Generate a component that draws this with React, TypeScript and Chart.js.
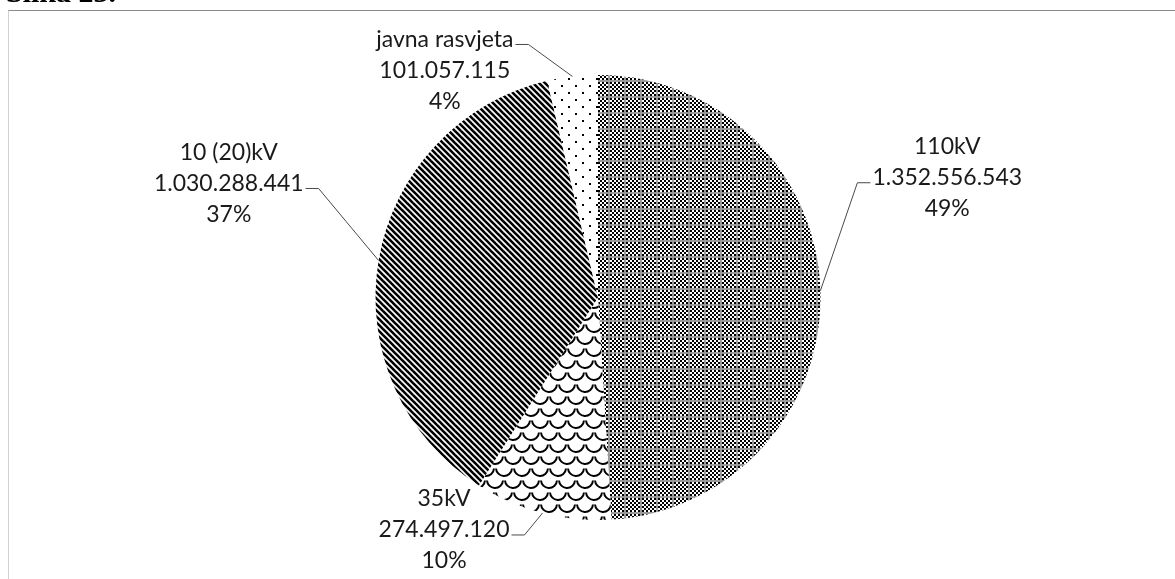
import React, { useEffect, useRef } from "react";
import { Chart, registerables } from "chart.js";

Chart.register(...registerables);

// ---- data ----
const categories = ["110kV", "35kV", "10 (20)kV", "javna rasvjeta"];
const values = [1352556543, 274497120, 1030288441, 101057115];
const patternKinds = ["checker", "scales", "stripes", "dots"];

// label placement relative to the slice's outer mid point (style, not data)
const labelLayout = [
  { dx: 37, dy: -108, side: "right", attach: 1 },
  { dx: -18, dy: 22, side: "left", attach: 1 },
  { dx: -60, dy: -72, side: "left", attach: 1 },
  { dx: -44, dy: -32, side: "left", attach: 0 },
];

const FONT = "23px Lato";
const LINE_H = 31;

function formatValue(n: number): string {
  return String(n).replace(/\B(?=(\d{3})+(?!\d))/g, ".");
}

function makePattern(kind: string): CanvasPattern | string {
  const c = document.createElement("canvas");
  const ctx = c.getContext("2d")!;
  if (kind === "checker") {
    c.width = 16; c.height = 16;
    ctx.fillStyle = "#fff"; ctx.fillRect(0, 0, 16, 16);
    ctx.fillStyle = "#000";
    for (let y = 0; y < 16; y += 2)
      for (let x = 0; x < 16; x += 2)
        if (((x + y) / 2) % 2 === 0) ctx.fillRect(x, y, 2, 2);
    ctx.fillStyle = "#9a9a9a";
    ctx.fillRect(0, 0, 16, 2);
    ctx.fillRect(0, 0, 2, 16);
  } else if (kind === "scales") {
    const W = 18, H = 24;
    c.width = W; c.height = H;
    ctx.fillStyle = "#fff"; ctx.fillRect(0, 0, W, H);
    ctx.strokeStyle = "#000"; ctx.lineWidth = 2;
    const r = W / 2;
    const rows = [
      { cy: -H / 2, xs: [0, W] },
      { cy: 0, xs: [W / 2] },
      { cy: H / 2, xs: [0, W] },
      { cy: H, xs: [W / 2] },
    ];
    for (const row of rows) {
      for (const cx of row.xs) {
        ctx.beginPath();
        ctx.arc(cx, row.cy, r - 1, 0.02 * Math.PI, 0.98 * Math.PI);
        ctx.stroke();
      }
    }
  } else if (kind === "stripes") {
    const S = 6;
    c.width = S; c.height = S;
    ctx.fillStyle = "#fff"; ctx.fillRect(0, 0, S, S);
    ctx.strokeStyle = "#000"; ctx.lineWidth = 2.6;
    for (let k = -2 * S; k <= 2 * S; k += S) {
      ctx.beginPath();
      ctx.moveTo(k - S, -S);
      ctx.lineTo(k + 2 * S, 2 * S);
      ctx.stroke();
    }
  } else {
    const S = 14;
    c.width = S; c.height = S;
    ctx.fillStyle = "#fff"; ctx.fillRect(0, 0, S, S);
    ctx.fillStyle = "#000";
    ctx.fillRect(1, 1, 2, 2);
    ctx.fillRect(8, 8, 2, 2);
  }
  const p = ctx.createPattern(c, "repeat");
  return p || "#888";
}

const labelPlugin = {
  id: "excelLabels",
  afterDatasetsDraw(chart: any) {
    const ctx: CanvasRenderingContext2D = chart.ctx;
    const meta = chart.getDatasetMeta(0);
    const ds = chart.data.datasets[0];
    const total = (ds.data as number[]).reduce((a, b) => a + b, 0);
    ctx.save();
    ctx.font = FONT;
    meta.data.forEach((arc: any, i: number) => {
      const { x, y, startAngle, endAngle, outerRadius } = arc.getProps(
        ["x", "y", "startAngle", "endAngle", "outerRadius"],
        true
      );
      const mid = (startAngle + endAngle) / 2;
      const ex = x + Math.cos(mid) * outerRadius;
      const ey = y + Math.sin(mid) * outerRadius;
      const lay = labelLayout[i];
      const bx = ex + lay.dx;
      const by = ey + lay.dy;
      const seg = 13;
      const sx = lay.side === "right" ? bx + seg : bx - seg;

      ctx.strokeStyle = "#4a4a4a";
      ctx.lineWidth = 1;
      ctx.beginPath();
      ctx.moveTo(ex, ey);
      ctx.lineTo(bx, by);
      ctx.lineTo(sx, by);
      ctx.stroke();

      const v = ds.data[i] as number;
      const lines = [
        chart.data.labels[i] as string,
        formatValue(v),
        Math.round((v / total) * 100) + "%",
      ];
      const w = Math.max(...lines.map((l) => ctx.measureText(l).width));
      const cx = lay.side === "right" ? sx + 2 + w / 2 : sx - 2 - w / 2;
      const attachCy = by - 5;
      ctx.fillStyle = "#1a1a1a";
      ctx.textAlign = "center";
      ctx.textBaseline = "middle";
      lines.forEach((l, li) => {
        ctx.fillText(l, cx, attachCy + (li - lay.attach) * LINE_H);
      });
    });
    ctx.restore();
  },
};

export default function App() {
  const ref = useRef<HTMLCanvasElement | null>(null);

  useEffect(() => {
    let chart: Chart | null = null;
    let cancelled = false;
    const build = () => {
      if (cancelled || !ref.current) return;
      chart = new Chart(ref.current, {
        type: "pie",
        data: {
          labels: categories,
          datasets: [
            {
              data: values,
              backgroundColor: patternKinds.map(makePattern) as any,
              borderWidth: 0,
            },
          ],
        },
        options: {
          responsive: false,
          maintainAspectRatio: false,
          animation: false,
          layout: { padding: { top: 75, bottom: 59, left: 21, right: 0 } },
          plugins: {
            legend: { display: false },
            tooltip: { enabled: false },
          },
        },
        plugins: [labelPlugin],
      });
    };
    const fontsReady = (document as any).fonts
      ? (document as any).fonts.load(FONT).catch(() => null)
      : Promise.resolve();
    fontsReady.then(build);
    return () => {
      cancelled = true;
      if (chart) chart.destroy();
    };
  }, []);

  return (
    <div>
      <div
        style={{
          position: "fixed",
          left: 6,
          top: -23,
          fontFamily: "'Liberation Serif', serif",
          fontWeight: "bold",
          fontSize: 30,
          lineHeight: "30px",
          color: "#000",
          whiteSpace: "nowrap",
        }}
      >
        Slika 23.
      </div>
      <div
        style={{
          position: "fixed",
          left: 8,
          top: 10,
          width: 1200,
          height: 600,
          borderTop: "1px solid #8a8a8a",
          borderLeft: "1px solid #d0d0d0",
          boxSizing: "border-box",
        }}
      />
      <canvas
        ref={ref}
        width={1175}
        height={579}
        style={{ position: "fixed", left: 0, top: 0, width: 1175, height: 579 }}
      />
    </div>
  );
}
